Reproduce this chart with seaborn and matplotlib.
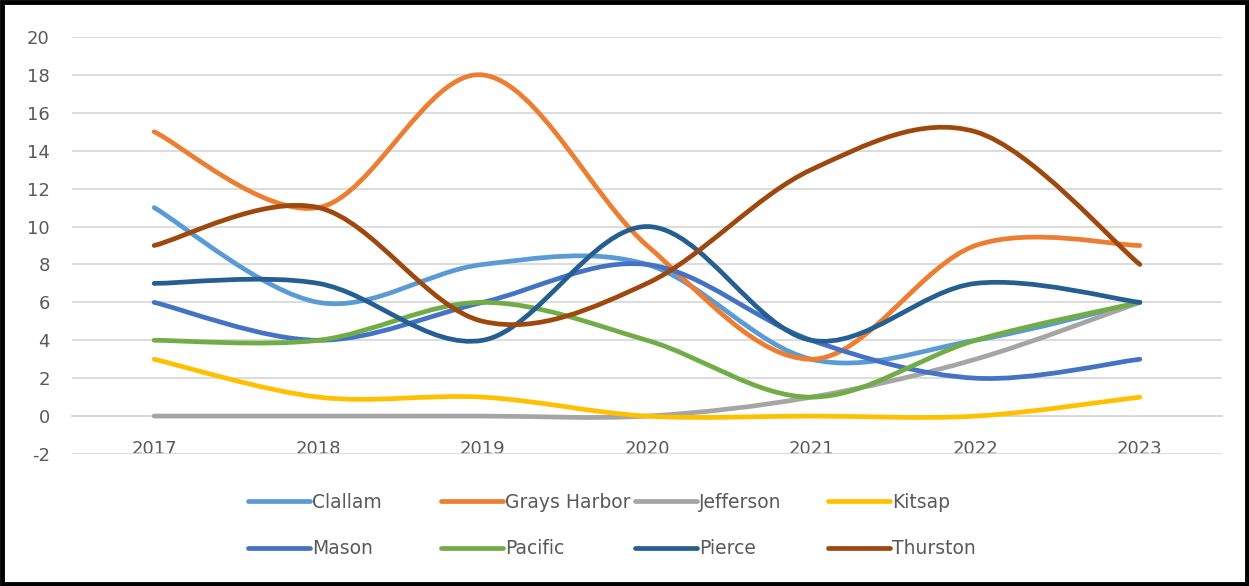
import numpy as np
import pandas as pd
import matplotlib
matplotlib.use("Agg")
import matplotlib.pyplot as plt
from matplotlib.path import Path
from matplotlib.patches import PathPatch, Rectangle
from matplotlib.lines import Line2D
import seaborn as sns

# data
years = [2017, 2018, 2019, 2020, 2021, 2022, 2023]
counties = ["Clallam", "Grays Harbor", "Jefferson", "Kitsap",
            "Mason", "Pacific", "Pierce", "Thurston"]
clallam = [11, 6, 8, 8, 3, 4, 6]
grays_harbor = [15, 11, 18, 9, 3, 9, 9]
jefferson = [0, 0, 0, 0, 1, 3, 6]
kitsap = [3, 1, 1, 0, 0, 0, 1]
mason = [6, 4, 6, 8, 4, 2, 3]
pacific = [4, 4, 6, 4, 1, 4, 6]
pierce = [7, 7, 4, 10, 4, 7, 6]
thurston = [9, 11, 5, 7, 13, 15, 8]
series = [clallam, grays_harbor, jefferson, kitsap, mason, pacific, pierce, thurston]
y_ticks = list(range(-2, 21, 2))

colors = ["#5B9BD5", "#ED7D31", "#A5A5A5", "#FFC000",
          "#4472C4", "#70AD47", "#255E91", "#9E480E"]
palette = dict(zip(counties, colors))

df = pd.DataFrame({
    "year": years * len(counties),
    "county": np.repeat(counties, len(years)),
    "value": np.concatenate(series),
})

sns.set_style("white")
plt.rcParams["font.family"] = ["DejaVu Sans"]
plt.rcParams["axes.unicode_minus"] = False
text_color = "#595959"
grid_color = "#D9D9D9"


def smooth_path(xs, ys):
    # Excel-style smoothed line: cubic bezier through the data points
    pts = np.column_stack([xs, ys]).astype(float)
    n = len(pts)
    verts = [pts[0]]
    codes = [Path.MOVETO]
    for i in range(n - 1):
        p0 = pts[max(i - 1, 0)]
        p1 = pts[i]
        p2 = pts[i + 1]
        p3 = pts[min(i + 2, n - 1)]
        c1 = p1 + (p2 - p0) / 6.0
        c2 = p2 - (p3 - p1) / 6.0
        verts += [c1, c2, p2]
        codes += [Path.CURVE4] * 3
    return Path(verts, codes)


fig = plt.figure(figsize=(12.49, 5.86), dpi=100)
ax = fig.add_axes([72 / 1249, 1 - 454 / 586, 1150 / 1249, 417 / 586])

# invisible seaborn pass sets up the scales from the data
sns.lineplot(data=df, x="year", y="value", hue="county", palette=palette,
             linewidth=0, legend=False, ax=ax)

lw = 3.4
for name, vals in zip(counties, series):
    patch = PathPatch(smooth_path(years, vals), facecolor="none",
                      edgecolor=palette[name], linewidth=lw,
                      capstyle="round", joinstyle="round", zorder=3)
    ax.add_patch(patch)

ax.set_xlim(years[0] - 0.5, years[-1] + 0.5)
ax.set_ylim(-2, 20)
ax.set_yticks(y_ticks)
ax.set_xticks(years)
ax.set_xticks([y - 0.5 for y in years] + [years[-1] + 0.5], minor=True)
ax.set_xlabel("")
ax.set_ylabel("")

ax.grid(axis="y", color=grid_color, linewidth=1.3)
ax.set_axisbelow(True)
for side in ["top", "left", "right"]:
    ax.spines[side].set_visible(False)
ax.spines["bottom"].set_position(("data", 0))
ax.spines["bottom"].set_color(grid_color)
ax.spines["bottom"].set_linewidth(1.3)

ax.tick_params(axis="y", length=0, pad=16, labelsize=13, labelcolor=text_color)
ax.tick_params(axis="x", which="major", length=0, pad=17, labelsize=13,
               labelcolor=text_color)
ax.tick_params(axis="x", which="minor", length=6, width=1.3, color=grid_color)

# legend: 4 fixed-width columns, 2 rows like Excel
col_x = [248, 441, 635, 828]
rows = [counties[:4], counties[4:]]
for c in range(4):
    names = [rows[0][c], rows[1][c]]
    handles = [Line2D([], [], color=palette[n], linewidth=lw,
                      solid_capstyle="round") for n in names]
    fig.legend(handles, names, loc="upper left",
               bbox_to_anchor=(col_x[c] / 1249, 1 - 493 / 586),
               frameon=False, handlelength=3.3, handletextpad=0.1,
               labelspacing=1.45, fontsize=13.5, labelcolor=text_color,
               borderaxespad=0, borderpad=0)

fig.patches.append(Rectangle((0.0015, 0.003), 0.997, 0.994, transform=fig.transFigure,
                             fill=False, edgecolor="black", linewidth=3.5))

fig.savefig("out.png", dpi=100)
